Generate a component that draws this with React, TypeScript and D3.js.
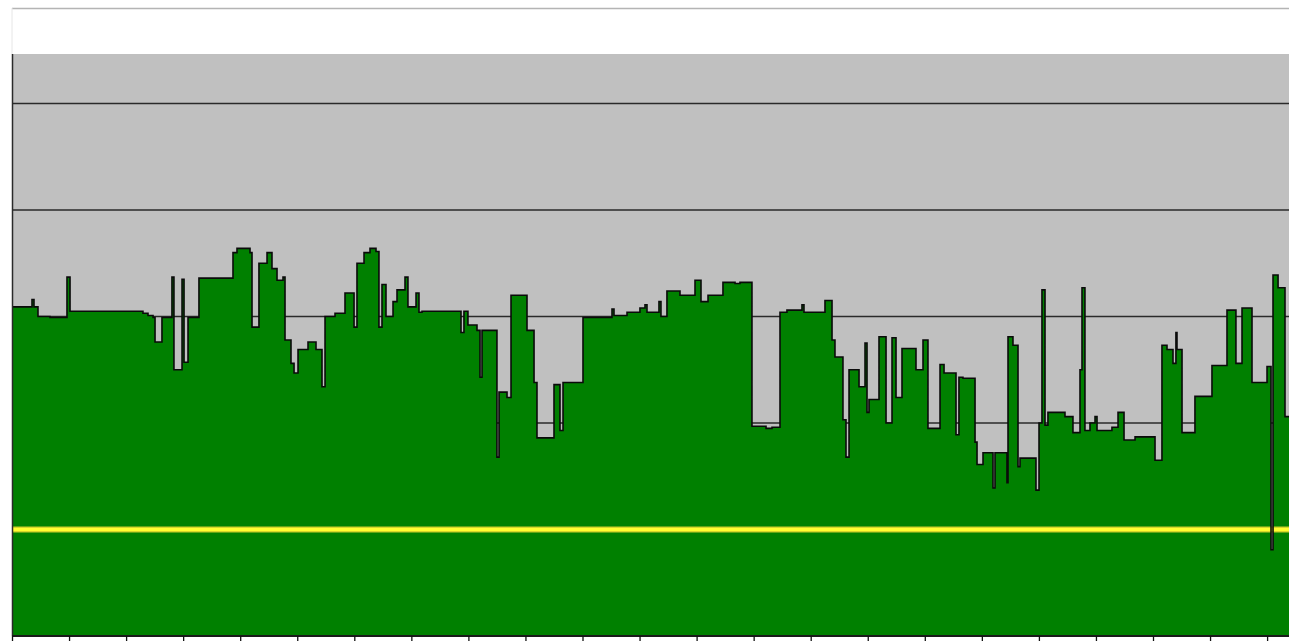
import React from "react";
import * as d3 from "d3";

// Sample start times (minutes) and level held until the next sample (step series)
const times: number[] = [
  0, 20.5, 22.6, 26.8, 39.4, 57.3, 60.5, 137.2, 142.5, 147.8,
  149.9, 157.2, 167.7, 169.8, 178.3, 180.4, 184.6, 196.1, 231.9, 236.1,
  249.8, 251.9, 259.2, 267.7, 272.9, 278.2, 284.5, 286.6, 292.9, 296.1,
  300.3, 310.8, 319.2, 325.5, 328.7, 339.2, 349.7, 359.2, 362.3, 369.7,
  376.0, 382.3, 385.4, 388.6, 392.8, 400.2, 404.4, 412.8, 415.9, 424.4,
  427.5, 430.7, 471.7, 474.8, 479.0, 488.5, 491.7, 493.8, 509.5, 511.7,
  520.1, 524.3, 541.1, 548.5, 551.6, 569.5, 575.8, 579.0, 600.0, 630.5,
  632.6, 646.3, 659.9, 665.2, 667.3, 679.9, 682.0, 688.3, 702.0, 717.8,
  724.1, 731.5, 747.2, 759.9, 765.1, 777.7, 792.5, 798.8, 807.2, 814.5,
  830.3, 832.4, 854.5, 861.9, 865.0, 873.4, 876.6, 879.8, 890.3, 896.6,
  898.7, 900.8, 911.3, 918.7, 925.0, 929.2, 935.5, 950.2, 957.6, 962.8,
  975.5, 979.7, 992.3, 995.4, 999.6, 1012.3, 1014.4, 1020.7, 1031.2, 1033.3,
  1045.9, 1047.0, 1052.2, 1057.5, 1059.6, 1076.4, 1079.6, 1082.7, 1085.9, 1089.0,
  1106.9, 1115.3, 1122.7, 1124.8, 1127.9, 1133.2, 1138.5, 1140.6, 1156.3, 1162.7,
  1169.0, 1180.6, 1201.6, 1208.9, 1214.2, 1220.5, 1223.6, 1224.7, 1230.0, 1243.6,
  1261.5, 1277.3, 1286.7, 1293.1, 1303.6, 1319.4, 1323.6, 1325.7, 1331.0, 1338.3,
  1380,
];

const values: number[] = [
  3.09, 3.16, 3.09, 3.00, 2.99, 3.37, 3.05, 3.03, 3.01, 2.99,
  2.76, 2.99, 3.37, 2.50, 3.35, 2.57, 2.99, 3.36, 3.60, 3.64,
  3.60, 2.90, 3.50, 3.60, 3.45, 3.34, 3.37, 2.78, 2.56, 2.47,
  2.69, 2.76, 2.69, 2.34, 3.00, 3.03, 3.22, 2.90, 3.50, 3.60,
  3.64, 3.61, 2.90, 3.30, 3.00, 3.14, 3.25, 3.37, 3.09, 3.22,
  3.04, 3.05, 2.85, 3.05, 2.92, 2.87, 2.43, 2.87, 1.68, 2.29,
  2.24, 3.20, 2.87, 2.38, 1.86, 2.36, 1.93, 2.38, 2.99, 3.07,
  3.01, 3.04, 3.08, 3.11, 3.04, 3.14, 3.00, 3.24, 3.20, 3.34,
  3.14, 3.20, 3.32, 3.31, 3.32, 1.97, 1.95, 1.96, 3.04, 3.06,
  3.11, 3.04, 3.15, 2.78, 2.62, 2.03, 1.68, 2.50, 2.34, 2.75,
  2.10, 2.22, 2.81, 2.00, 2.80, 2.24, 2.70, 2.50, 2.78, 1.95,
  2.55, 2.47, 1.89, 2.43, 2.42, 1.82, 1.61, 1.72, 1.39, 1.72,
  1.44, 2.81, 2.73, 1.59, 1.67, 1.37, 2.00, 3.25, 1.98, 2.10,
  2.06, 1.91, 2.50, 3.27, 1.93, 2.00, 2.06, 1.93, 1.96, 2.10,
  1.84, 1.87, 1.65, 2.73, 2.69, 2.56, 2.85, 2.69, 1.91, 2.25,
  2.54, 3.06, 2.56, 3.08, 2.38, 2.53, 0.81, 3.39, 3.27, 2.06,
  2.06,
];

const gridValues: number[] = [2, 3, 4, 5];
const thresholdValue = 1;
const xTicks: number[] = d3.range(0, 1381, 60);

const W = 1289;
const H = 641;

export default function App() {
  const left = 12.5;
  const plotTop = 54;
  const plotBottom = 636;
  const x = d3.scaleLinear().domain([0, 1380]).range([left, left + (1380 / 60) * 57.05]);
  const y = d3.scaleLinear().domain([0, (plotBottom - plotTop) / 106.5]).range([plotBottom, plotTop]);

  const data = times.map((t, i) => ({ t, v: values[i] }));
  const area = d3
    .area<{ t: number; v: number }>()
    .x((d) => x(d.t))
    .y0(plotBottom)
    .y1((d) => y(d.v))
    .curve(d3.curveStepAfter);
  const line = d3
    .line<{ t: number; v: number }>()
    .x((d) => x(d.t))
    .y((d) => y(d.v))
    .curve(d3.curveStepAfter);

  return (
    <svg
      width={W}
      height={H}
      style={{ position: "absolute", left: 0, top: 0, background: "#ffffff" }}
    >
      <rect x={0} y={0} width={W} height={H} fill="#ffffff" />
      <line x1={12} x2={W} y1={8.5} y2={8.5} stroke="#b4b4b4" strokeWidth={1.5} />
      <line x1={12} x2={12} y1={8} y2={plotTop} stroke="#e6e6e6" strokeWidth={1} />
      <rect x={12} y={plotTop} width={W - 12} height={plotBottom - plotTop} fill="#c0c0c0" />
      {gridValues.map((g) => (
        <line key={g} x1={12} x2={W} y1={y(g)} y2={y(g)} stroke="#2a2a2a" strokeWidth={1.6} />
      ))}
      <path d={area(data) || ""} fill="#008000" />
      <line x1={12} x2={W} y1={y(thresholdValue)} y2={y(thresholdValue)} stroke="#c9c92a" strokeWidth={6} />
      <line x1={12} x2={W} y1={y(thresholdValue)} y2={y(thresholdValue)} stroke="#ffff30" strokeWidth={3.5} />
      <path d={line(data) || ""} fill="none" stroke="#0a0a0a" strokeWidth={1.6} />
      <line x1={12.5} x2={12.5} y1={plotTop} y2={plotBottom} stroke="#2a2a2a" strokeWidth={1.5} />
      <line x1={12} x2={W} y1={plotBottom} y2={plotBottom} stroke="#1a1a1a" strokeWidth={1.8} />
      {xTicks.map((t) => (
        <line key={t} x1={x(t)} x2={x(t)} y1={plotBottom} y2={H} stroke="#111" strokeWidth={1.3} />
      ))}
    </svg>
  );
}
